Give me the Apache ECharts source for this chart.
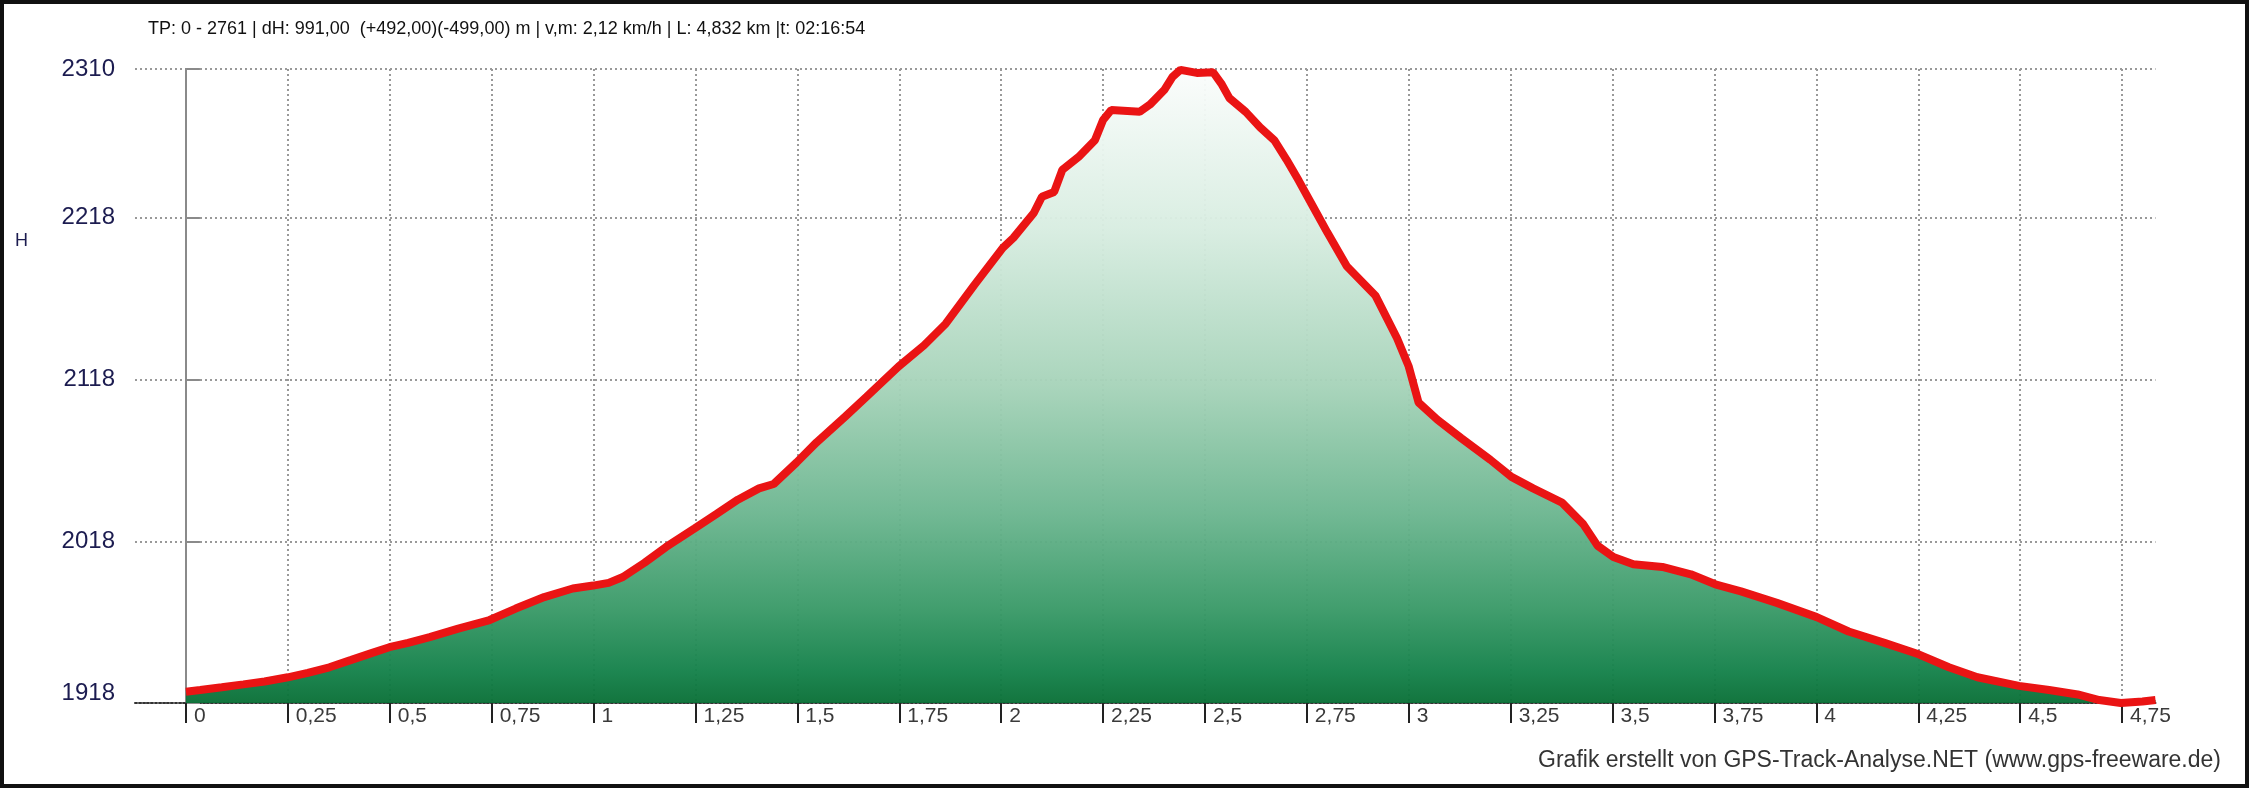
<!DOCTYPE html>
<html>
<head>
<meta charset="utf-8">
<title>Höhenprofil</title>
<script src="https://cdn.jsdelivr.net/npm/echarts@6/dist/echarts.min.js"></script>
<style>
  html, body { margin: 0; padding: 0; background: #fff; }
  #chart { width: 2250px; height: 788px; }
</style>
</head>
<body>
<div id="chart"></div>
<script>
// Strecke in km
const distKm = [
  0, 0.035, 0.088, 0.141, 0.193, 0.25, 0.299, 0.352, 0.404, 0.457,
  0.499, 0.545, 0.598, 0.668, 0.745, 0.809, 0.879, 0.949, 0.999, 1.037,
  1.072, 1.125, 1.178, 1.248, 1.301, 1.354, 1.406, 1.442, 1.498, 1.547,
  1.617, 1.67, 1.748, 1.811, 1.864, 1.934, 2.004, 2.03, 2.08, 2.10,
  2.13, 2.15, 2.19, 2.23, 2.25, 2.27, 2.34, 2.365, 2.40, 2.42,
  2.44, 2.48, 2.52, 2.54, 2.56, 2.60, 2.635, 2.67, 2.70, 2.73,
  2.765, 2.80, 2.848, 2.918, 2.971, 3.0, 3.024, 3.07, 3.129, 3.20,
  3.252, 3.305, 3.376, 3.428, 3.463, 3.502, 3.551, 3.622, 3.692, 3.752,
  3.815, 3.903, 4.001, 4.079, 4.167, 4.251, 4.325, 4.395, 4.497, 4.571,
  4.641, 4.694, 4.747, 4.80, 4.832
];
// Höhe in m
const elevM = [
  1925, 1926, 1927.7, 1929.5, 1931.3, 1933.9, 1936.6, 1940.1, 1944.5, 1949,
  1952.5, 1955.2, 1958.7, 1964, 1969.3, 1976.4, 1983.5, 1988.8, 1990.6, 1992.3,
  1995.9, 2004.7, 2014.5, 2026, 2034.8, 2043.7, 2050.7, 2053.4, 2066.7, 2079.1,
  2095, 2107.4, 2126, 2139.2, 2152.5, 2176.4, 2199.4, 2205.6, 2221, 2231,
  2234, 2247.6, 2255.6, 2266, 2278.5, 2284.7, 2283.5, 2288, 2297, 2305,
  2309.5, 2307.6, 2308, 2301, 2292, 2283.5, 2274, 2266, 2254, 2241,
  2225, 2209, 2188, 2170, 2143.7, 2126, 2103.8, 2093.2, 2081.7, 2068.4,
  2057.8, 2050.7, 2041.9, 2028.6, 2015.3, 2008.3, 2003.8, 2002.1, 1997.6, 1991.4,
  1987, 1979.9, 1971.1, 1962.2, 1955.2, 1948.1, 1940.1, 1933.9, 1928.6, 1926,
  1923.3, 1919.8, 1918, 1918.9, 1919.8
];
// Beschriftete Marken der x-Achse (km)
const xTicks = [0, 0.25, 0.5, 0.75, 1, 1.25, 1.5, 1.75, 2, 2.25, 2.5, 2.75, 3, 3.25, 3.5, 3.75, 4, 4.25, 4.5, 4.75];
const yMin = 1918, yMax = 2310, yStep = 100;

const titleText = 'TP: 0 - 2761 | dH: 991,00  (+492,00)(-499,00) m | v,m: 2,12 km/h | L: 4,832 km |t: 02:16:54';
const creditText = 'Grafik erstellt von GPS-Track-Analyse.NET (www.gps-freeware.de)';

let points = distKm.map((d, i) => [d, elevM[i]]);

let myChart = echarts.init(document.getElementById('chart'));
myChart.setOption({
  backgroundColor: '#fff',
  animation: false,
  title: {
    text: titleText,
    left: 148,
    top: 20,
    padding: 0,
    textStyle: { fontSize: 18, fontWeight: 'normal', color: '#111', fontFamily: 'Liberation Sans' }
  },
  grid: { left: 135, right: 94.5, top: 69, bottom: 85, containLabel: false },
  xAxis: {
    type: 'value',
    min: -0.125,
    max: 4.832,
    axisLine: { show: true, lineStyle: { color: '#333', width: 2, type: [2, 2] } },
    axisTick: {
      show: true, length: 20, customValues: xTicks,
      lineStyle: { color: '#222', width: 2 }
    },
    axisLabel: {
      customValues: xTicks,
      align: 'left',
      margin: 3,
      padding: [0, 0, 0, 8],
      color: '#3a3a3a',
      fontSize: 21,
      fontFamily: 'Liberation Sans',
      formatter: v => String(v).replace('.', ',')
    },
    splitLine: { show: true, lineStyle: { color: '#999', width: 2, type: [2, 3] } }
  },
  yAxis: {
    type: 'value',
    min: yMin,
    max: yMax,
    interval: yStep,
    axisLine: { show: true, lineStyle: { color: '#8a8a8a', width: 2 } },
    axisTick: { show: true, inside: true, length: 14, lineStyle: { color: '#8a8a8a', width: 2 } },
    axisLabel: {
      margin: 20,
      color: '#1c1c50',
      fontSize: 24,
      fontFamily: 'Liberation Sans',
      formatter: v => v === yMin ? '{low|' + v + '}' : String(v),
      rich: { low: { fontSize: 24, color: '#1c1c50', fontFamily: 'Liberation Sans', padding: [0, 0, 20, 0] } }
    },
    splitLine: { show: true, lineStyle: { color: '#999', width: 2, type: [2, 3] } }
  },
  series: [{
    type: 'line',
    data: points,
    showSymbol: false,
    clip: false,
    lineStyle: { color: '#ea1414', width: 8 },
    areaStyle: {
      origin: 'start',
      opacity: 0.96,
      color: new echarts.graphic.LinearGradient(0, 0, 0, 1, [
        { offset: 0, color: '#fbfdfc' },
        { offset: 0.25, color: '#d8ede1' },
        { offset: 0.5, color: '#a6d3b9' },
        { offset: 0.7, color: '#6cb690' },
        { offset: 0.85, color: '#3a9a68' },
        { offset: 0.95, color: '#14814a' },
        { offset: 1, color: '#096f36' }
      ])
    }
  }],
  graphic: [
    {
      type: 'rect',
      shape: { x: 2, y: 2, width: 2245, height: 784 },
      style: { fill: 'none', stroke: '#111', lineWidth: 4 },
      silent: true
    },
    {
      type: 'text',
      left: 15, top: 232,
      style: { text: 'H', fontSize: 18, fill: '#1c1c50', fontFamily: 'Liberation Sans' }
    },
    {
      type: 'text',
      right: 29, top: 749,
      style: { text: creditText, fontSize: 23, fill: '#333', fontFamily: 'Liberation Sans' }
    }
  ]
});

window.onresize = function () { myChart.resize(); };
</script>
</body>
</html>
